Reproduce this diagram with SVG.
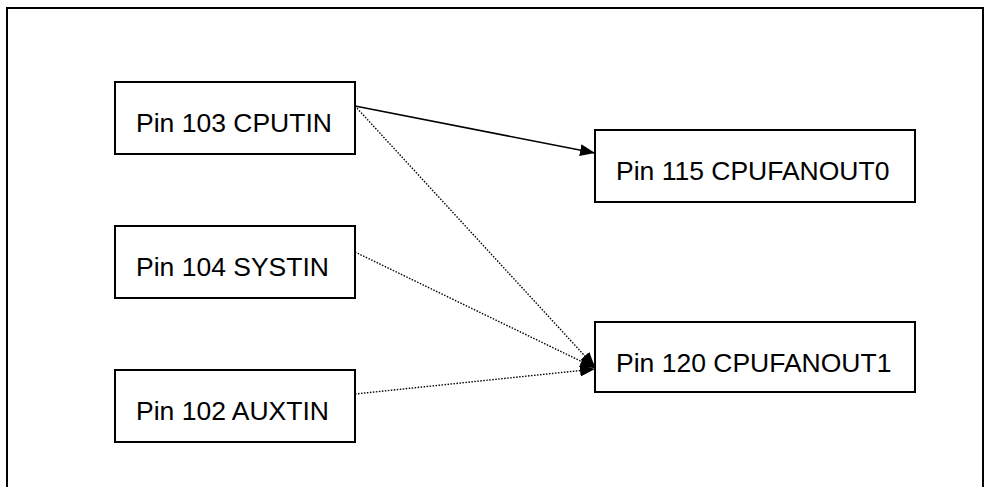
<svg xmlns="http://www.w3.org/2000/svg" width="985" height="487" viewBox="0 0 985 487">
<style>
.box{fill:#fff;stroke:#000;stroke-width:2}
.lbl{font-family:"Liberation Sans",Arial,sans-serif;font-size:26.5px;fill:#000}
.solid{stroke:#000;stroke-width:1.6;fill:none}
.dot{stroke:#000;stroke-width:1.4;fill:none;stroke-dasharray:1.5 1.5}
</style>
<defs>
<marker id="arr" markerUnits="userSpaceOnUse" markerWidth="16" markerHeight="12" refX="15" refY="6" orient="auto">
<path d="M0,0 L15,6 L0,12 Z" fill="#000"/>
</marker>
</defs>
<rect width="985" height="487" fill="#fff"/>
<path d="M7,500 V8 H983 V500" fill="none" stroke="#000" stroke-width="2"/>
<g id="connectors">
<line class="solid" x1="355" y1="106" x2="595" y2="153" marker-end="url(#arr)"/>
<line class="dot" x1="355" y1="106" x2="595" y2="367" marker-end="url(#arr)"/>
<line class="dot" x1="355" y1="252" x2="595" y2="368" marker-end="url(#arr)"/>
<line class="dot" x1="355" y1="394" x2="595" y2="369" marker-end="url(#arr)"/>
</g>
<g id="cputin">
<rect class="box" x="115" y="82" width="240" height="72"/>
<text class="lbl" x="136" y="132">Pin 103 CPUTIN</text>
</g>
<g id="systin">
<rect class="box" x="115" y="226" width="240" height="72"/>
<text class="lbl" x="136" y="276">Pin 104 SYSTIN</text>
</g>
<g id="auxtin">
<rect class="box" x="115" y="370" width="240" height="72"/>
<text class="lbl" x="136" y="420">Pin 102 AUXTIN</text>
</g>
<g id="cpufanout0">
<rect class="box" x="595" y="130" width="320" height="72"/>
<text class="lbl" x="616" y="180">Pin 115 CPUFANOUT0</text>
</g>
<g id="cpufanout1">
<rect class="box" x="595" y="322" width="320" height="70"/>
<text class="lbl" x="616" y="372">Pin 120 CPUFANOUT1</text>
</g>
</svg>
